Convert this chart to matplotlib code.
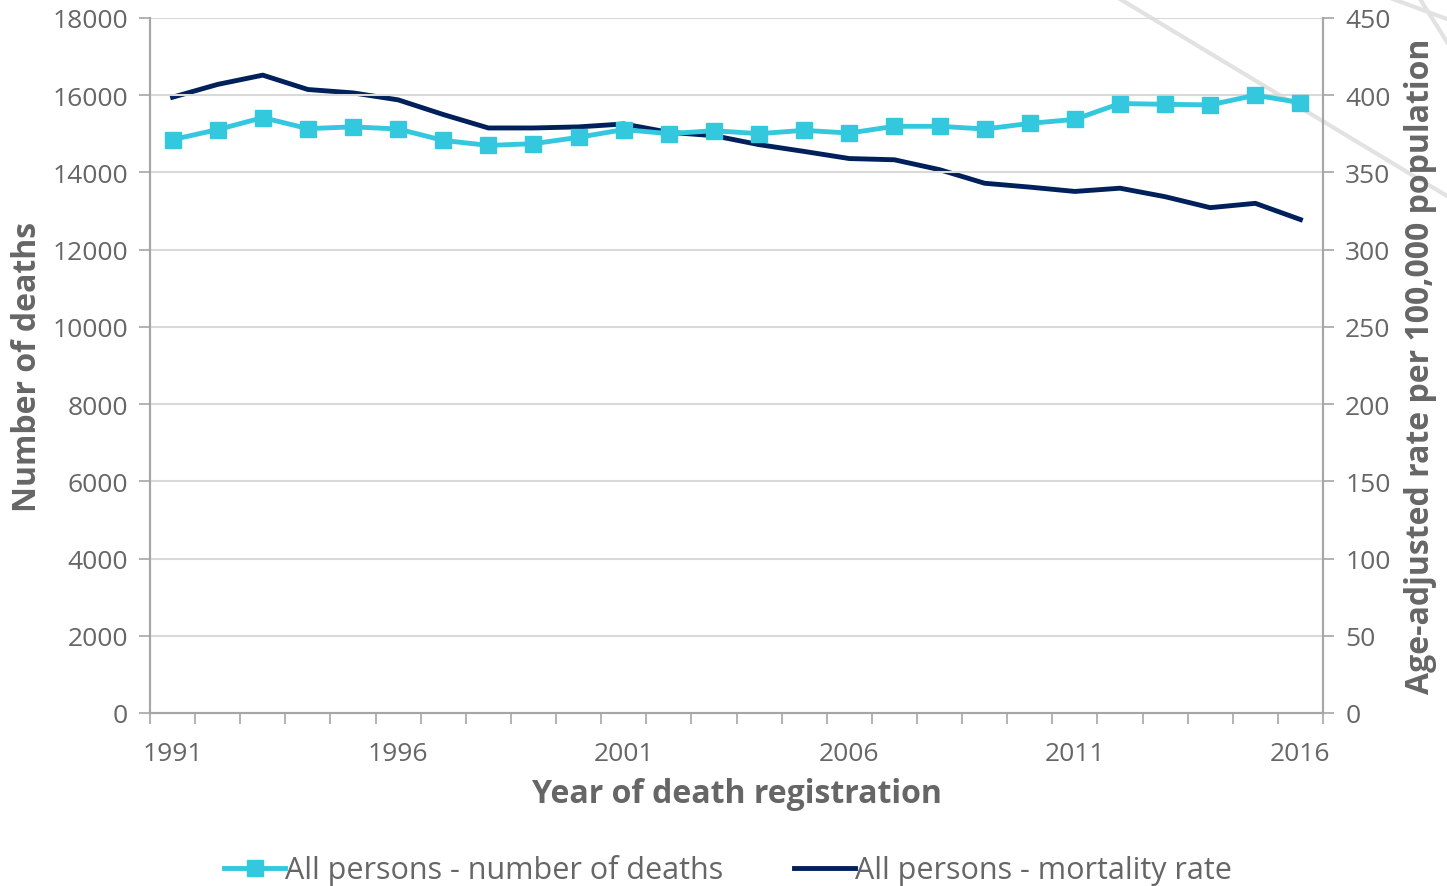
import matplotlib
matplotlib.use('Agg')
import matplotlib.pyplot as plt
from matplotlib.lines import Line2D
from matplotlib.ticker import MultipleLocator, FixedLocator

# data
years = list(range(1991, 2017))
deaths = [14850, 15110, 15420, 15135, 15180, 15125, 14830, 14700, 14745, 14910,
          15110, 15005, 15080, 15005, 15090, 15020, 15195, 15195, 15125, 15270,
          15375, 15785, 15765, 15750, 16000, 15810]
rate = [398.7, 407, 413, 403.7, 401.5, 397, 387.5, 378.8, 378.8, 379.5,
        381.4, 376, 373.8, 368, 363.6, 359, 358.2, 351.8, 343, 340.5,
        337.7, 339.8, 334.3, 327.2, 330, 319.5]
year_labels = [1991, 1996, 2001, 2006, 2011, 2016]

cyan = '#33C8DE'
navy = '#00205B'
grey_text = '#666666'
axis_grey = '#A6A6A6'
grid_grey = '#D9D9D9'

plt.rcParams['font.family'] = ['Open Sans', 'DejaVu Sans']

fig = plt.figure(figsize=(14.47, 8.87), dpi=100)
ax = fig.add_axes([150 / 1447, 1 - 714 / 887, (1323 - 150) / 1447, (714 - 19) / 887])
ax2 = ax.twinx()

# faint watermark strokes in the top right
for (x0, y0, x1, y1) in [(1120, 0, 1447, 197), (1393, 0, 1447, 20), (1420, 0, 1447, 43)]:
    fig.add_artist(Line2D([x0 / 1447, x1 / 1447], [1 - y0 / 887, 1 - y1 / 887],
                          transform=fig.transFigure, color='#E2E2E2', lw=3, zorder=0))

ax.plot(years, deaths, color=cyan, lw=3.5, marker='s', markersize=12, zorder=3)
ax2.plot(years, rate, color=navy, lw=3.5, zorder=3)

ax.set_xlim(1990.5, 2016.5)
ax.set_ylim(0, 18000)
ax2.set_ylim(0, 450)
ax.yaxis.set_major_locator(MultipleLocator(2000))
ax2.yaxis.set_major_locator(MultipleLocator(50))

ax.xaxis.set_major_locator(FixedLocator(year_labels))
ax.xaxis.set_minor_locator(FixedLocator([y + 0.5 for y in range(1990, 2017)]))
ax.tick_params(axis='x', which='major', length=0, pad=20, labelsize=19, labelcolor=grey_text)
ax.tick_params(axis='x', which='minor', length=8, width=1.2, color=axis_grey)
ax.tick_params(axis='y', length=8, width=1.2, color=axis_grey, labelsize=19,
               labelcolor=grey_text, pad=8)
ax2.tick_params(axis='y', length=8, width=1.2, color=axis_grey, labelsize=19,
                labelcolor=grey_text, pad=8)

ax.grid(axis='y', color=grid_grey, lw=1.5)
ax.set_axisbelow(True)
ax.set_zorder(ax2.get_zorder() + 1)
ax.patch.set_visible(False)

for a in (ax, ax2):
    a.spines['top'].set_visible(False)
    for s in ('left', 'right', 'bottom'):
        a.spines[s].set_color(axis_grey)
        a.spines[s].set_linewidth(1.5)

ax.set_ylabel('Number of deaths', fontsize=23, fontweight='bold', color=grey_text, labelpad=6)
ax2.set_ylabel('Age-adjusted rate per 100,000 population', fontsize=23, fontweight='bold',
               color=grey_text, labelpad=10)
ax.set_xlabel('Year of death registration', fontsize=23, fontweight='bold', color=grey_text,
              labelpad=8)

handles = [Line2D([], [], color=cyan, lw=3.5, marker='s', markersize=11),
           Line2D([], [], color=navy, lw=3.5)]
fig.legend(handles, ['All persons - number of deaths', 'All persons - mortality rate'],
           loc='center', bbox_to_anchor=(0.503, 1 - 871 / 887), ncol=2, frameon=False,
           fontsize=22, handlelength=2.0, handletextpad=0.0, columnspacing=2.3,
           labelcolor=grey_text)

fig.savefig('out.png', dpi=100)
